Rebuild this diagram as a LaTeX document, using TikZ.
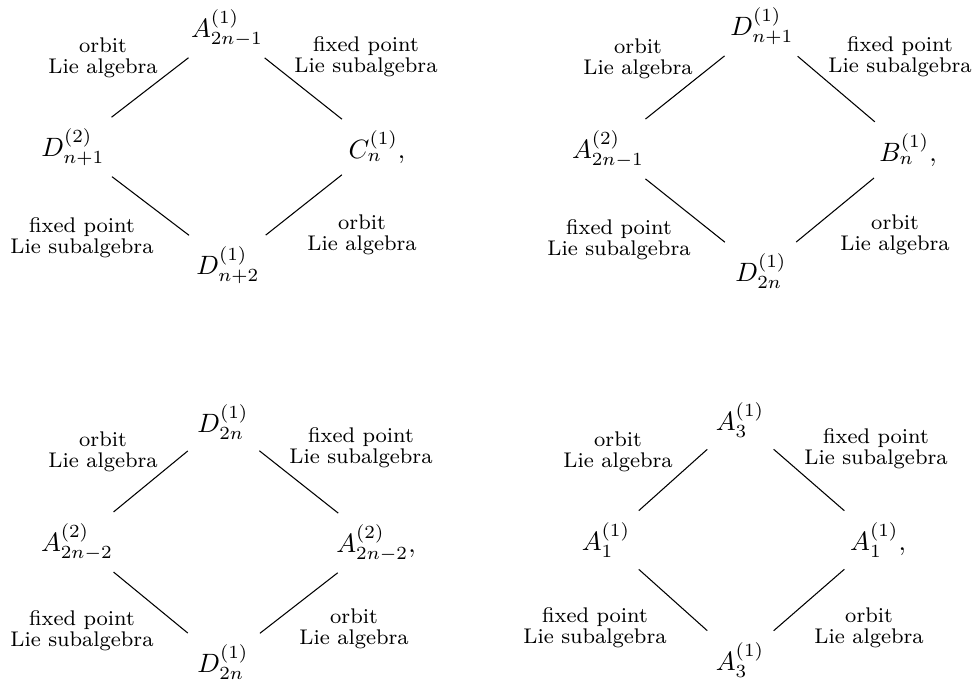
\documentclass[tikz,border=0pt]{standalone}
\begin{document}
\begin{tikzpicture}[x=0.3774pt, y=-0.3774pt]
    \tikzstyle{alg}=[inner sep=1pt]
    \tikzstyle{lbl}=[align=center, font={\footnotesize\baselineskip=8pt}, inner sep=0pt]
    \tikzstyle{link}=[shorten >=5pt, shorten <=5pt]

    \useasboundingbox (0,0) rectangle (978,684);

    \begin{scope}
        \node[alg] (t1) at (227, 28) {$A^{(1)}_{2n-1}$};
        \node[alg] (l1) at (73, 147) {$D^{(2)}_{n+1}$};
        \node[alg] (r1) at (377, 147) {$C^{(1)}_n,$};
        \node[alg] (b1) at (228, 265) {$D^{(1)}_{n+2}$};

        \node[lbl] (ul1) at (103, 58) {orbit\\Lie algebra};
        \node[lbl] (ur1) at (366, 57) {fixed point\\Lie subalgebra};
        \node[lbl] (ll1) at (82, 238) {fixed point\\Lie subalgebra};
        \node[lbl] (lr1) at (362, 235) {orbit\\Lie algebra};
    \end{scope}

    \begin{scope}
        \node[alg] (t2) at (762, 26) {$D^{(1)}_{n+1}$};
        \node[alg] (l2) at (608, 149) {$A^{(2)}_{2n-1}$};
        \node[alg] (r2) at (908, 150) {$B^{(1)}_n,$};
        \node[alg] (b2) at (761, 271) {$D^{(1)}_{2n}$};

        \node[lbl] (ul2) at (638, 59) {orbit\\Lie algebra};
        \node[lbl] (ur2) at (900, 57) {fixed point\\Lie subalgebra};
        \node[lbl] (ll2) at (619, 240) {fixed point\\Lie subalgebra};
        \node[lbl] (lr2) at (895, 235) {orbit\\Lie algebra};
    \end{scope}

    \begin{scope}
        \node[alg] (t3) at (223, 422) {$D^{(1)}_{2n}$};
        \node[alg] (l3) at (77, 542) {$A^{(2)}_{2n-2}$};
        \node[alg] (r3) at (376, 543) {$A^{(2)}_{2n-2},$};
        \node[alg] (b3) at (223, 662) {$D^{(1)}_{2n}$};

        \node[lbl] (ul3) at (103, 452) {orbit\\Lie algebra};
        \node[lbl] (ur3) at (361, 448) {fixed point\\Lie subalgebra};
        \node[lbl] (ll3) at (82, 631) {fixed point\\Lie subalgebra};
        \node[lbl] (lr3) at (354, 629) {orbit\\Lie algebra};
    \end{scope}

    \begin{scope}
        \node[alg] (t4) at (740, 420) {$A^{(1)}_3$};
        \node[alg] (l4) at (606, 540) {$A^{(1)}_1$};
        \node[alg] (r4) at (878, 540) {$A^{(1)}_1,$};
        \node[alg] (b4) at (740, 660) {$A^{(1)}_3$};

        \node[lbl] (ul4) at (618, 452) {orbit\\Lie algebra};
        \node[lbl] (ur4) at (876, 449) {fixed point\\Lie subalgebra};
        \node[lbl] (ll4) at (595, 628) {fixed point\\Lie subalgebra};
        \node[lbl] (lr4) at (869, 628) {orbit\\Lie algebra};
    \end{scope}

    \foreach \i in {1,...,4} {
        \draw[link] (t\i) -- (l\i);
        \draw[link] (t\i) -- (r\i);
        \draw[link] (l\i) -- (b\i);
        \draw[link] (r\i) -- (b\i);
    }

\end{tikzpicture}
\end{document}
